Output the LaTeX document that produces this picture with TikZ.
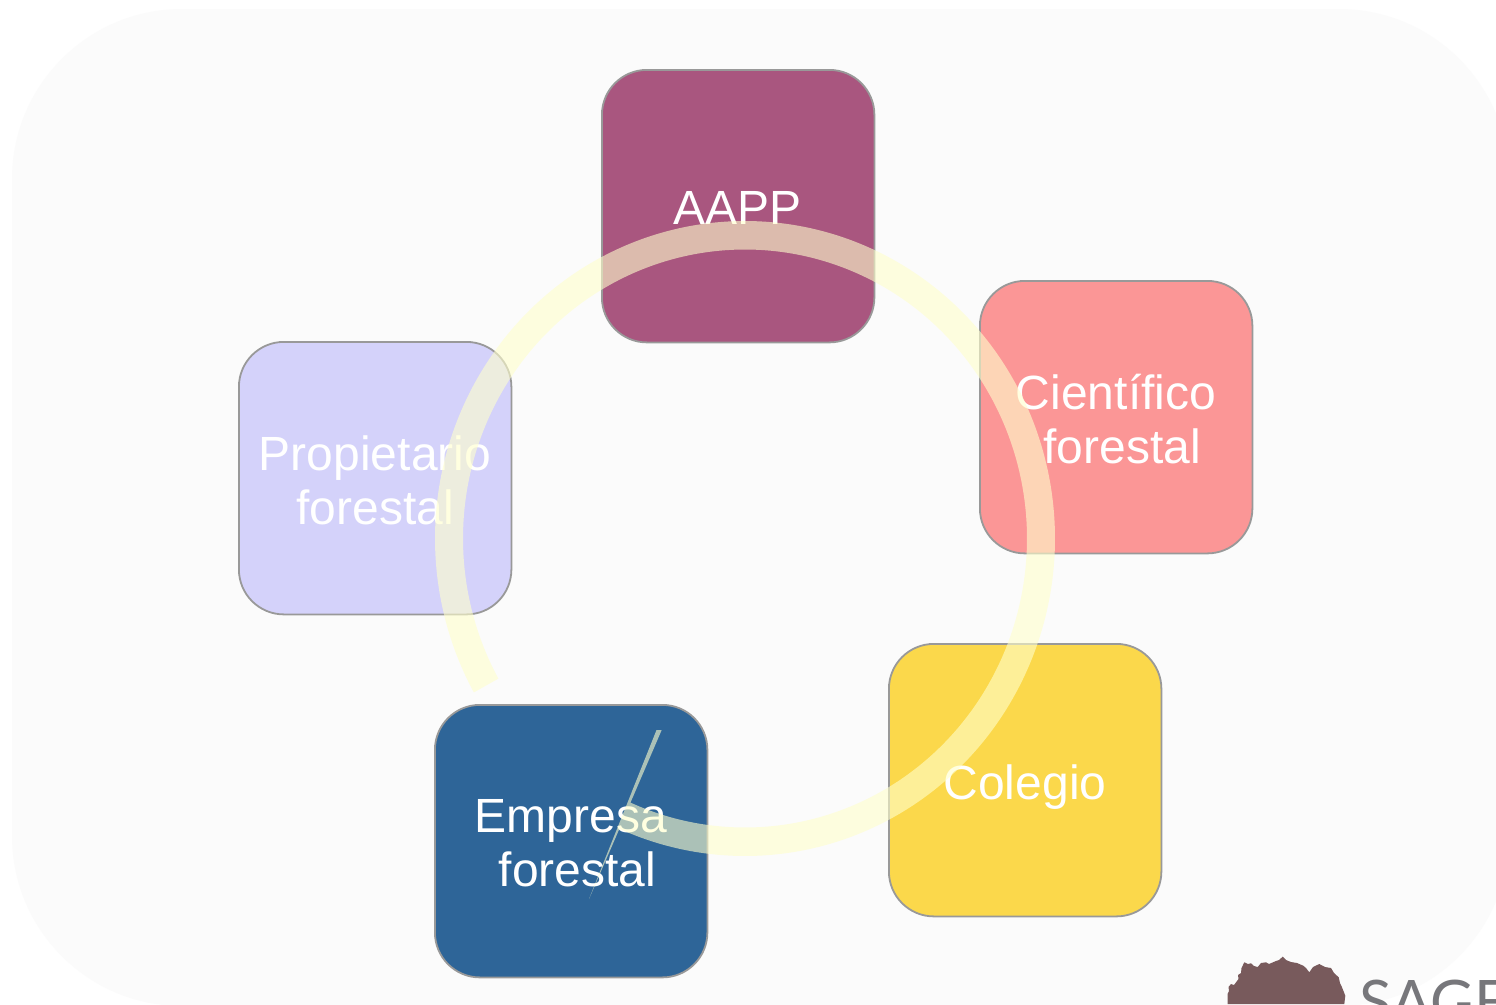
\documentclass[tikz,border=0pt]{standalone}
\usepackage{fontspec}
\setmainfont{Liberation Sans}
\newfontfamily\logofont{Lato}
\definecolor{panel}{HTML}{FBFBFB}
\definecolor{edge}{HTML}{999999}
\definecolor{cAapp}{HTML}{A9567F}
\definecolor{cCien}{HTML}{FB9696}
\definecolor{cCole}{HTML}{FBD84B}
\definecolor{cEmpr}{HTML}{2E6598}
\definecolor{cProp}{HTML}{D4D2FA}
\definecolor{ringc}{HTML}{FFFFCC}
\definecolor{tree}{HTML}{785A5C}
\definecolor{logotxt}{HTML}{77777B}
\tikzset{
  boxnode/.style={draw=edge,line width=1.8pt,rounded corners=45pt,minimum width=272.5pt,minimum height=272.5pt,inner sep=0pt,anchor=north west},
  lab/.style={text=white,font=\fontsize{48}{54}\selectfont,inner sep=0pt,anchor=base},
}
\begin{document}
\begin{tikzpicture}[x=1pt,y=-1pt]
\useasboundingbox (0,0) rectangle (1496,1004);
\begin{scope}
\clip (0,0) rectangle (1496,1004);
\fill[white] (0,0) rectangle (1496,1004);
\fill[panel,rounded corners=170pt] (12,9) rectangle (1509,1006);
% logo
\fill[tree] (1227.5,1004) -- (1227.5,994) -- (1229,991) -- (1228.5,987) -- (1231,984) -- (1234,985) -- (1238.5,979) -- (1238,975) -- (1241,973) -- (1241.5,968) -- (1244.3,962.3) -- (1248,964) -- (1251,963.3) -- (1254,966) -- (1257.7,967) -- (1261,963) -- (1266,962.3) -- (1269,964) -- (1275.3,961.3) -- (1279,960) -- (1282.7,956.7) -- (1286,960) -- (1291,962) -- (1297,963) -- (1303.3,965.7) -- (1306,968) -- (1309.3,972.3) -- (1313,967) -- (1319.3,964) -- (1325,967) -- (1331,968) -- (1334,973) -- (1338.7,977.3) -- (1340,983) -- (1342,987.3) -- (1345.3,995.7) -- (1344.3,1004) -- cycle;
\node[text=logotxt,font=\logofont\fontsize{60}{60}\selectfont,inner sep=0pt,anchor=base west] (logo) at (1359,1023) {SAGE};
% boxes
\node[boxnode,fill=cAapp] (aapp) at (601,69) {};
\node[boxnode,fill=cCien] (cien) at (979,280) {};
\node[boxnode,fill=cCole] (cole) at (888,643) {};
\node[boxnode,fill=cEmpr] (empr) at (434,704) {};
\node[boxnode,fill=cProp] (prop) at (238,341) {};
\node[lab] (t1) at (737.5,224) {AAPP};
\node[lab] (t2) at (1116,409) {Científico};
\node[lab] (t3) at (1122,463) {forestal};
\node[lab] (t4) at (375,470) {Propietario};
\node[lab] (t5) at (375,524) {forestal};
\node[lab] (t6) at (1025,799) {Colegio};
\node[lab] (t7) at (571,832.5) {Empresa};
\node[lab] (t8) at (577.5,886) {forestal};
% ring: clockwise elliptical band ending in a thin sliver
\path[fill=ringc,fill opacity=.6]
  plot[domain=151:473.9,samples=240,smooth] ({745+310*cos(\x)},{538.5+317.5*sin(\x)})
  -- (589,899) -- (656.5,730) -- (661.7,730) -- (630.3,803)
  -- plot[domain=474:151,samples=240,smooth] ({745+282*cos(\x)},{538.5+289*sin(\x)})
  -- cycle;
\end{scope}
\end{tikzpicture}
\end{document}
